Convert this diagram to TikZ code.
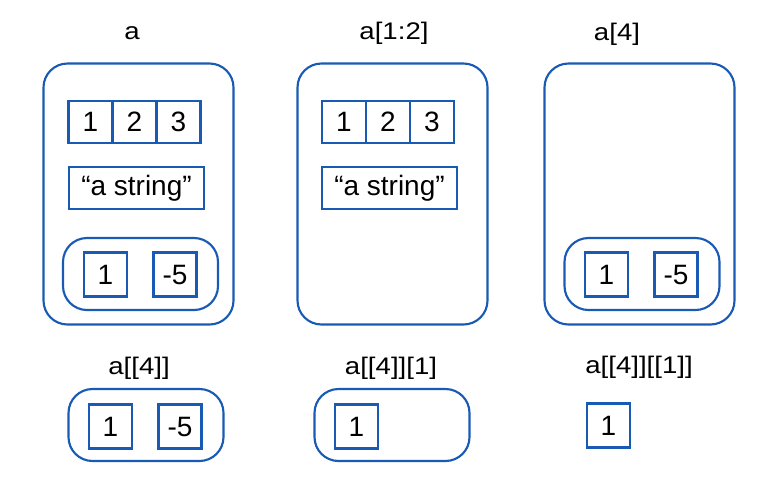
\documentclass[tikz,border=0pt]{standalone}
\usepackage{fontspec}
\setmainfont{Liberation Sans}
\newfontfamily\lblfont[FakeStretch=1.15]{Liberation Sans}
\definecolor{rblue}{RGB}{25,90,180}
\begin{document}
\begin{tikzpicture}[x=0.75pt,y=-0.75pt,
  outerbox/.style={draw=rblue,line width=1.6pt,rounded corners=18pt,minimum width=142.5pt,minimum height=195.75pt,inner sep=0pt},
  listbox/.style={draw=rblue,line width=1.6pt,rounded corners=18pt,minimum width=116.25pt,minimum height=54pt,inner sep=0pt},
  cell/.style={draw=rblue,line width=1.6pt,minimum width=33pt,minimum height=31.5pt,inner sep=0pt,font=\fontsize{21}{24}\selectfont},
  numbox/.style={draw=rblue,line width=1.6pt,minimum width=32.25pt,minimum height=33pt,inner sep=0pt,font=\fontsize{21}{24}\selectfont},
  strbox/.style={draw=rblue,line width=1.6pt,minimum width=101.25pt,minimum height=31.5pt,inner sep=0pt,font=\fontsize{21}{24}\selectfont},
  lbl/.style={inner sep=0pt,font=\lblfont\fontsize{18}{21}\selectfont}]
\useasboundingbox (0,0) rectangle (760,479);

% labels
\node[lbl] (la) at (132,33) {a};
\node[lbl] (lb) at (394,33) {a[1:2]};
\node[lbl] (lc) at (617,34) {a[4]};
\node[lbl] (ld) at (139,368) {a[[4]]};
\node[lbl] (le) at (391,368) {a[[4]][1]};
\node[lbl] (lf) at (639,367) {a[[4]][[1]]};

% a
\node[outerbox] (A) at (138.5,194) {};
\node[cell] (A1) at (90.5,122) {1};
\node[cell] (A2) at (134.5,122) {2};
\node[cell] (A3) at (178.5,122) {3};
\node[strbox] (AS) at (136.5,188) {“a string”};
\node[listbox] (AL) at (140.5,274) {};
\node[numbox] (AL1) at (105.5,274.5) {1};
\node[numbox] (AL2) at (175,274.5) {-5};

% a[1:2]
\node[outerbox] (B) at (392.5,194) {};
\node[cell] (B1) at (344,122) {1};
\node[cell] (B2) at (388,122) {2};
\node[cell] (B3) at (432,122) {3};
\node[strbox] (BS) at (389.5,188) {“a string”};

% a[4]
\node[outerbox] (C) at (639.5,194) {};
\node[listbox] (CL) at (642,274) {};
\node[numbox] (CL1) at (606.5,274.5) {1};
\node[numbox] (CL2) at (676,274.5) {-5};

% a[[4]]
\node[listbox] (D) at (146,425) {};
\node[numbox] (D1) at (110.5,426.5) {1};
\node[numbox] (D2) at (180,426.5) {-5};

% a[[4]][1]
\node[listbox] (E) at (392,425) {};
\node[numbox] (E1) at (356.5,426.5) {1};

% a[[4]][[1]]
\node[numbox] (F1) at (608.5,425.5) {1};
\end{tikzpicture}
\end{document}
